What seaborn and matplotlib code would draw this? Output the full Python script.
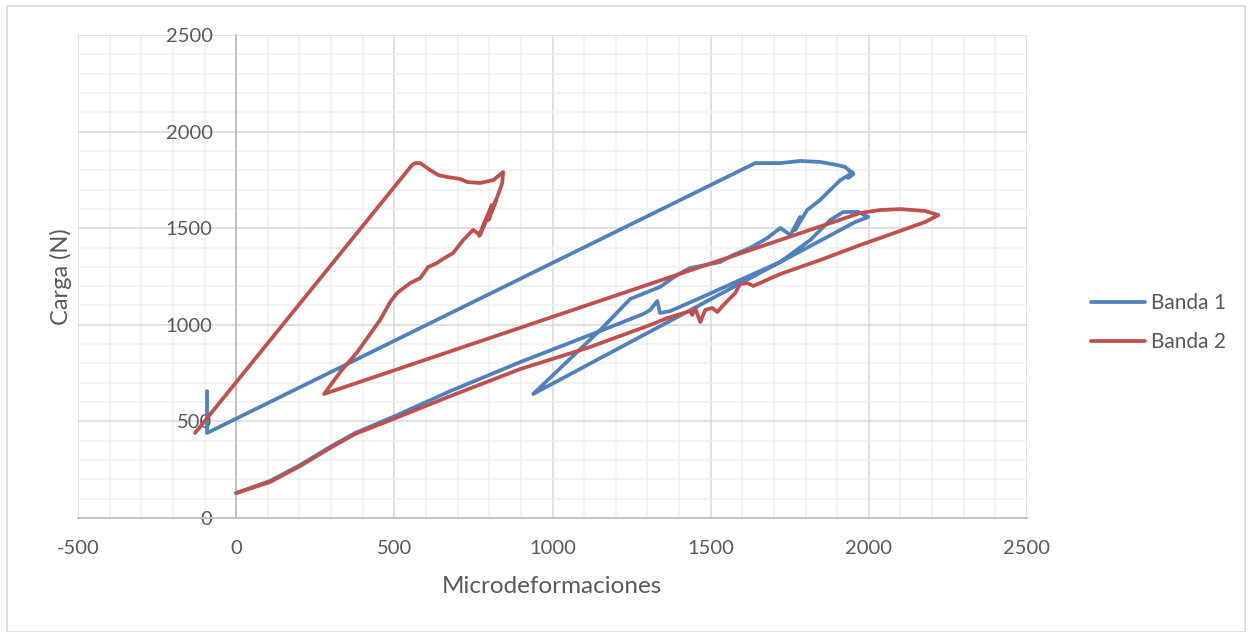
import matplotlib
matplotlib.use("Agg")
import matplotlib.pyplot as plt
from matplotlib.ticker import MultipleLocator
from matplotlib.patches import Rectangle
import seaborn as sns
import pandas as pd

# Strain gauge readings: microstrain vs. load (N)
banda1_x = [0, 107, 202, 297, 376, 496, 677, 898, 1151, 1287, 1309, 1331, 1340, 1372,
            1467, 1593, 1720, 1815, 1878, 1919, 1967, 1998, 1957,
            939,
            1151, 1246, 1340, 1394, 1435, 1467, 1530, 1571, 1625, 1679, 1720, 1752, 1783,
            1767, 1805, 1846, 1878, 1910, 1932, 1948, 1935, 1951,
            1925, 1900, 1846, 1783, 1720, 1657, 1641,
            -92, -92]
banda1_y = [129, 192, 274, 368, 440, 523, 657, 807, 968, 1056, 1077, 1123, 1061, 1071,
            1139, 1232, 1325, 1439, 1542, 1584, 1584, 1558, 1532,
            642,
            973, 1134, 1196, 1258, 1294, 1304, 1325, 1361, 1398, 1449, 1501, 1465, 1558,
            1491, 1594, 1646, 1698, 1749, 1770, 1791, 1760, 1780,
            1817, 1827, 1843, 1848, 1837, 1837, 1837,
            440, 657]

banda2_x = [0, 107, 202, 297, 376, 496, 677, 898, 1110, 1309, 1363, 1435, 1442, 1451,
            1467, 1483, 1505, 1521, 1540, 1578, 1593, 1616, 1635, 1720, 1846, 1973,
            2099, 2178, 2220, 2178, 2099, 2036, 1973,
            278,
            329, 383, 455, 487, 509, 550, 582, 607, 635, 654, 686, 718, 749, 771,
            794, 768, 809, 781, 822, 797, 831, 841, 844,
            813, 771, 730, 708, 667, 639, 613, 582, 566, 556,
            -130]
banda2_y = [129, 186, 269, 362, 435, 512, 631, 771, 880, 999, 1035, 1071, 1051, 1087,
            1014, 1077, 1087, 1066, 1102, 1165, 1211, 1216, 1201, 1263, 1335, 1413,
            1486, 1532, 1568, 1589, 1599, 1594, 1579,
            642,
            756, 859, 1025, 1118, 1165, 1216, 1242, 1299, 1320, 1341, 1372, 1439, 1491, 1465,
            1558, 1460, 1620, 1511, 1646, 1542, 1687, 1734, 1791,
            1749, 1734, 1739, 1755, 1765, 1775, 1801, 1837, 1837, 1827,
            440]

series_names = ["Banda 1", "Banda 2"]
series_colors = ["#4F81BD", "#C0504D"]
x_ticks = [-500, 0, 500, 1000, 1500, 2000, 2500]
y_ticks = [0, 500, 1000, 1500, 2000, 2500]

W, H = 1253, 632
sns.set_theme(style="white")
plt.rcParams["font.family"] = ["Lato", "DejaVu Sans"]

fig = plt.figure(figsize=(W / 100, H / 100), dpi=100)
ax = fig.add_axes([78 / W, 1 - 518 / H, 949 / W, 483 / H])

frames = [
    pd.DataFrame({"x": banda1_x, "y": banda1_y}),
    pd.DataFrame({"x": banda2_x, "y": banda2_y}),
]
for df, name, col in zip(frames, series_names, series_colors):
    sns.lineplot(data=df, x="x", y="y", sort=False, estimator=None, ax=ax,
                 color=col, linewidth=2.7, label=name, zorder=3,
                 solid_joinstyle="round", solid_capstyle="round")

ax.set_xlim(x_ticks[0], x_ticks[-1])
ax.set_ylim(y_ticks[0], y_ticks[-1])
ax.set_xticks(x_ticks)
ax.set_yticks(y_ticks)
ax.xaxis.set_minor_locator(MultipleLocator(100))
ax.yaxis.set_minor_locator(MultipleLocator(100))

ax.grid(which="major", color="#D9D9D9", linewidth=1.1, zorder=0)
ax.grid(which="minor", color="#F0F0F0", linewidth=1.1, zorder=0)
ax.set_axisbelow(True)

for side in ["top", "right"]:
    ax.spines[side].set_visible(False)
ax.spines["left"].set_position(("data", 0))
ax.spines["bottom"].set_position(("data", 0))
for side in ["left", "bottom"]:
    ax.spines[side].set_color("#BFBFBF")
    ax.spines[side].set_linewidth(1.3)
    ax.spines[side].set_zorder(1)

ax.tick_params(axis="both", which="major", direction="out", length=6, width=1.3,
               color="#BFBFBF", labelcolor="#595959", labelsize=14.5)
ax.tick_params(axis="x", which="major", pad=10)
ax.tick_params(axis="y", which="major", pad=11)
ax.tick_params(which="minor", length=0)
ax.set_xticklabels([str(v) for v in x_ticks])

ax.set_xlabel("Microdeformaciones", fontsize=17.5, color="#595959")
ax.set_ylabel("Carga (N)", fontsize=17, color="#595959")
ax.xaxis.set_label_coords(0.4995, -0.12)
ax.yaxis.set_label_coords(-0.006, 0.5)

handles, labels = ax.get_legend_handles_labels()
ax.legend(handles, labels, loc="center left",
          bbox_to_anchor=(1091 / W, 1 - 322.5 / H), bbox_transform=fig.transFigure,
          frameon=False, fontsize=15, handlelength=2.6, handletextpad=0.3,
          labelspacing=0.9, borderpad=0, borderaxespad=0, labelcolor="#595959")

fig.patches.append(Rectangle((7 / W, 0), 1238 / W, 1 - 6 / H, transform=fig.transFigure,
                             fill=False, edgecolor="#D9D9D9", linewidth=1.2))

fig.savefig("out.png", dpi=100, facecolor="white")
